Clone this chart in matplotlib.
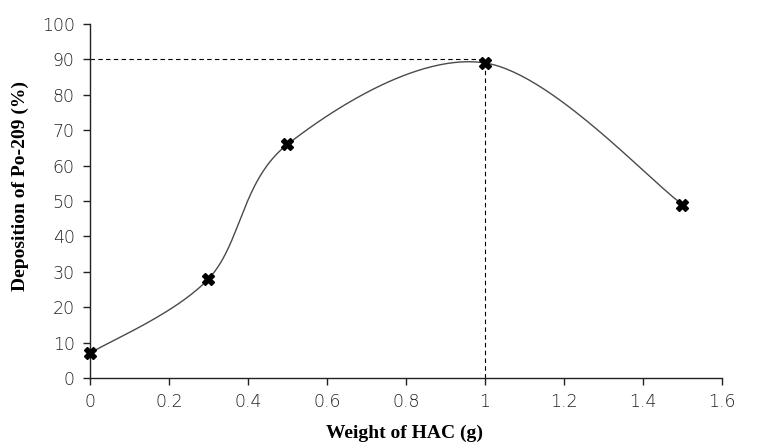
import numpy as np
import matplotlib
matplotlib.use("Agg")
import matplotlib.pyplot as plt

# measured data
weight = [0, 0.3, 0.5, 1.0, 1.5]
deposition = [7, 28, 66, 89, 49]
x_ticks = [0, 0.2, 0.4, 0.6, 0.8, 1, 1.2, 1.4, 1.6]
x_tick_labels = ["0", "0.2", "0.4", "0.6", "0.8", "1", "1.2", "1.4", "1.6"]
y_ticks = list(range(0, 101, 10))
peak_x, peak_y = 1.0, 90


def smooth_line(xs, ys, sx, sy, n=60):
    # excel style smoothed line: bezier segments, control points from neighbours
    px = np.array(xs) / sx
    py = np.array(ys) / sy
    out_x, out_y = [], []
    m = len(px)
    t = np.linspace(0, 1, n)
    for i in range(m - 1):
        p0 = np.array([px[i], py[i]])
        p3 = np.array([px[i + 1], py[i + 1]])
        prev = np.array([px[i - 1], py[i - 1]]) if i > 0 else p0
        nxt = np.array([px[i + 2], py[i + 2]]) if i + 2 < m else p3
        c1 = p0 + (p3 - prev) / 6
        c2 = p3 - (nxt - p0) / 6
        seg = ((1 - t) ** 3)[:, None] * p0 + (3 * (1 - t) ** 2 * t)[:, None] * c1 \
            + (3 * (1 - t) * t ** 2)[:, None] * c2 + (t ** 3)[:, None] * p3
        out_x.extend(seg[:, 0] * sx)
        out_y.extend(seg[:, 1] * sy)
    return out_x, out_y


fig = plt.figure(figsize=(7.58, 4.44), dpi=100)
ax = fig.add_axes([0.1187, 0.1486, 0.8338, 0.7974])

cx, cy = smooth_line(weight, deposition, 1.6 * 0.75, 100)
ax.plot(cx, cy, color="#4a4a4a", lw=1.0, zorder=2)
ax.plot(weight, deposition, linestyle="none", marker="X", markersize=8,
        color="black", markeredgecolor="black", zorder=3, clip_on=False)

ax.plot([0, peak_x], [peak_y, peak_y], color="black", lw=0.8, ls=(0, (4, 3)), zorder=1)
ax.plot([peak_x, peak_x], [0, peak_y], color="black", lw=0.8, ls=(0, (4, 3)), zorder=1)

ax.set_xlim(0, 1.6)
ax.set_ylim(0, 100)
ax.set_xticks(x_ticks)
ax.set_xticklabels(x_tick_labels)
ax.set_yticks(y_ticks)

for s in ["top", "right"]:
    ax.spines[s].set_visible(False)
for s in ["left", "bottom"]:
    ax.spines[s].set_color("#222222")
    ax.spines[s].set_linewidth(1.0)

ax.tick_params(direction="out", length=5, width=1, color="#222222",
               labelsize=12.5, labelcolor="#222222", pad=6)
for lab in ax.get_xticklabels() + ax.get_yticklabels():
    lab.set_family("DejaVu Sans")
    lab.set_fontweight("light")

ax.set_xlabel("Weight of HAC (g)", family="Liberation Serif", fontweight="bold",
              fontsize=14)
ax.set_ylabel("Deposition of Po-209 (%)", family="Liberation Serif", fontweight="bold",
              fontsize=14)
ax.xaxis.set_label_coords(0.498, -0.132)
ax.yaxis.set_label_coords(-0.096, 0.541)

plt.savefig("out.png", dpi=100)
